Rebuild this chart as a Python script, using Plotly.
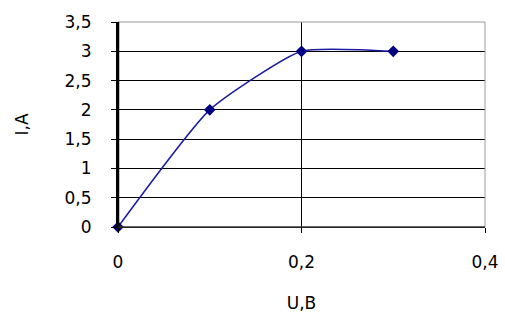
import plotly.graph_objects as go

u_values = [0.0, 0.1, 0.2, 0.3]
i_values = [0.0, 2.0, 3.0, 3.0]
x_ticks = [0, 0.2, 0.4]
y_ticks = [0, 0.5, 1, 1.5, 2, 2.5, 3, 3.5]

fig = go.Figure()
fig.add_trace(go.Scatter(
    x=u_values, y=i_values, mode="lines+markers",
    line=dict(color="#1a1aa0", width=1.5, shape="spline", smoothing=0.5),
    marker=dict(color="#000080", size=9, symbol="diamond"),
    cliponaxis=False, showlegend=False,
))

font = dict(family="DejaVu Sans, Verdana, sans-serif", size=17, color="black")

fig.update_layout(
    width=505, height=313,
    margin=dict(l=118, r=20, t=22, b=86, autoexpand=False),
    paper_bgcolor="white", plot_bgcolor="white",
    separators=", ",
    font=font,
    xaxis=dict(
        range=[0, 0.4], tickvals=x_ticks, showgrid=True, gridcolor="black", gridwidth=1,
        zeroline=False, showline=True, linecolor="black", linewidth=1, automargin=False,
        ticks="outside", ticklen=5, tickcolor="black", ticklabelstandoff=15,
        title=dict(text="U,B", standoff=28, font=font),
    ),
    yaxis=dict(
        range=[0, 3.5], tickvals=y_ticks, showgrid=True, gridcolor="black", gridwidth=1,
        zeroline=False, showline=True, linecolor="black", linewidth=2, automargin=False,
        ticks="outside", ticklen=5, tickcolor="black", ticklabelstandoff=16,
        title=dict(text="I,A", standoff=32, font=font),
    ),
    shapes=[dict(type="rect", xref="x domain", yref="y domain", x0=0, x1=1, y0=0, y1=1,
                 line=dict(color="#9a9a9a", width=1), layer="above"),
            dict(type="line", xref="x domain", yref="y domain", x0=0, x1=0, y0=0, y1=1,
                 line=dict(color="black", width=2.5), layer="above"),
            dict(type="line", xref="x domain", yref="y domain", x0=0, x1=1, y0=0, y1=0,
                 line=dict(color="black", width=1), layer="above")],
)

fig.write_html("out.html", config={"displayModeBar": False},
               post_script="document.body.style.margin='0';")
